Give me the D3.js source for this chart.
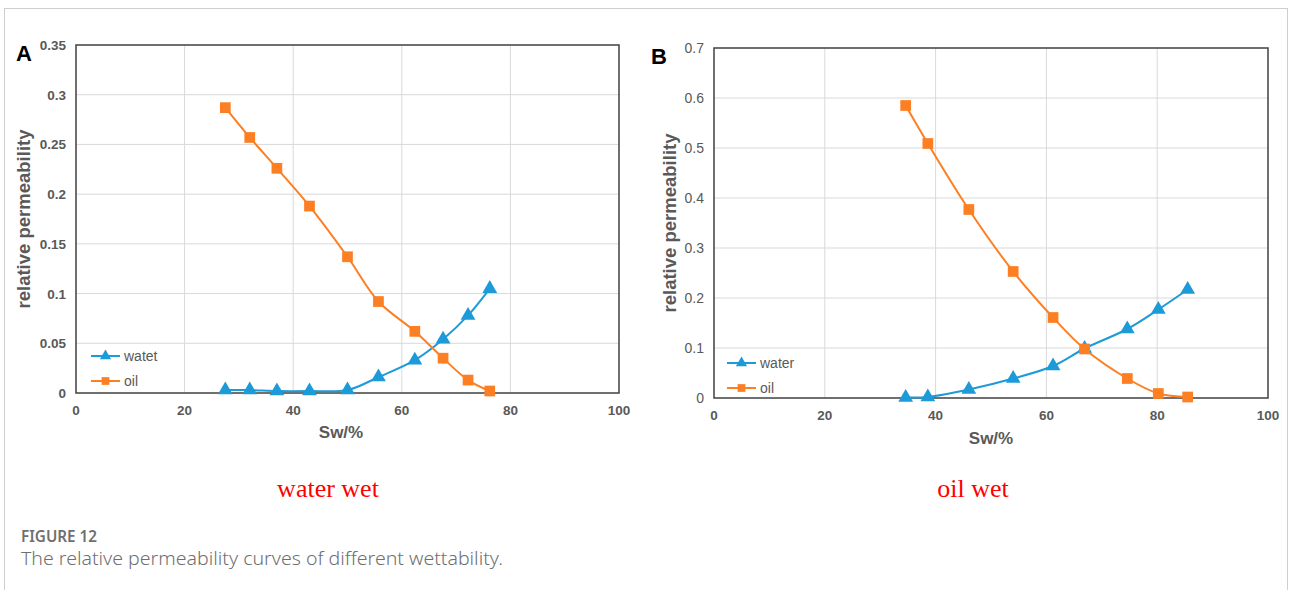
<!DOCTYPE html>
<html>
<head>
<meta charset="utf-8">
<script src="https://cdn.jsdelivr.net/npm/d3@7"></script>
<style>
  body { margin: 0; background: #fff; }
  svg { display: block; }
</style>
</head>
<body>
<div id="fig"></div>
<script>
// panel A: water wet
var swA = [27.5, 32, 37, 43, 50, 55.7, 62.4, 67.6, 72.2, 76.2];
var waterA = [0.003, 0.003, 0.002, 0.002, 0.003, 0.016, 0.033, 0.054, 0.078, 0.105];
var oilA = [0.287, 0.257, 0.226, 0.188, 0.137, 0.092, 0.062, 0.035, 0.013, 0.002];
var yTicksA = [0, 0.05, 0.1, 0.15, 0.2, 0.25, 0.3, 0.35];

// panel B: oil wet
var swB = [34.6, 38.6, 46, 54, 61.2, 66.9, 74.6, 80.2, 85.5];
var waterB = [0.001, 0.002, 0.017, 0.039, 0.064, 0.099, 0.138, 0.177, 0.217];
var oilB = [0.585, 0.509, 0.377, 0.253, 0.161, 0.098, 0.039, 0.009, 0.002];
var yTicksB = [0, 0.1, 0.2, 0.3, 0.4, 0.5, 0.6, 0.7];

var xTicks = [0, 20, 40, 60, 80, 100];

var blue = "#1c9bd8", orange = "#fd7f24", grey = "#595959";

var svg = d3.select("#fig").append("svg")
    .attr("width", 1290)
    .attr("height", 590);

// outer frame
svg.append("rect")
    .attr("x", 4.5).attr("y", 8.5)
    .attr("width", 1283).attr("height", 600)
    .attr("fill", "none")
    .attr("stroke", "#cfcfcf");

function panel(opt) {
  var x = d3.scaleLinear().domain([0, 100]).range([opt.left, opt.right]);
  var y = d3.scaleLinear().domain([0, opt.ymax]).range([opt.bottom, opt.top]);
  var g = svg.append("g");

  // grid
  g.selectAll(".gx").data(xTicks.slice(1, -1)).enter().append("line")
      .attr("x1", d => x(d)).attr("x2", d => x(d))
      .attr("y1", opt.top).attr("y2", opt.bottom)
      .attr("stroke", "#d9d9d9").attr("stroke-width", 1);
  g.selectAll(".gy").data(opt.yTicks.slice(1, -1)).enter().append("line")
      .attr("y1", d => y(d)).attr("y2", d => y(d))
      .attr("x1", opt.left).attr("x2", opt.right)
      .attr("stroke", "#d9d9d9").attr("stroke-width", 1);

  // frame
  g.append("rect")
      .attr("x", opt.left).attr("y", opt.top)
      .attr("width", opt.right - opt.left).attr("height", opt.bottom - opt.top)
      .attr("fill", "none").attr("stroke", "#404040").attr("stroke-width", 1.5);

  // ticks
  g.selectAll(".tx").data(xTicks).enter().append("text")
      .attr("x", d => x(d)).attr("y", opt.bottom + 22)
      .attr("text-anchor", "middle")
      .attr("font-family", "Liberation Sans, Arial, sans-serif")
      .attr("font-size", 13.5).attr("font-weight", "bold")
      .attr("fill", grey)
      .text(d => d);
  g.selectAll(".ty").data(opt.yTicks).enter().append("text")
      .attr("x", opt.left - 10).attr("y", d => y(d) + 5)
      .attr("text-anchor", "end")
      .attr("font-family", "Liberation Sans, Arial, sans-serif")
      .attr("font-size", opt.yBold ? 13.5 : 14)
      .attr("font-weight", opt.yBold ? "bold" : "normal")
      .attr("fill", grey)
      .text(d => d);

  // axis titles
  g.append("text")
      .attr("transform", "translate(" + opt.yTitleX + "," + ((opt.top + opt.bottom) / 2) + ") rotate(-90)")
      .attr("text-anchor", "middle")
      .attr("font-family", "Liberation Sans, Arial, sans-serif")
      .attr("font-size", 18.5).attr("font-weight", "bold")
      .attr("fill", grey)
      .text("relative permeability");
  g.append("text")
      .attr("x", opt.xTitleX).attr("y", opt.xTitleY)
      .attr("text-anchor", "middle")
      .attr("font-family", "Liberation Sans, Arial, sans-serif")
      .attr("font-size", 17).attr("font-weight", "bold")
      .attr("fill", grey)
      .text("Sw/%");

  // panel letter
  g.append("text")
      .attr("x", opt.letterX).attr("y", opt.top + 16)
      .attr("font-family", "Liberation Sans, Arial, sans-serif")
      .attr("font-size", 22).attr("font-weight", "bold")
      .attr("fill", "#000")
      .text(opt.letter);

  var line = d3.line()
      .x(d => x(d[0])).y(d => y(d[1]))
      .curve(d3.curveCatmullRom.alpha(0.5));

  var water = opt.sw.map((s, i) => [s, opt.water[i]]);
  var oil = opt.sw.map((s, i) => [s, opt.oil[i]]);

  g.append("path").datum(water)
      .attr("d", line).attr("fill", "none")
      .attr("stroke", blue).attr("stroke-width", 2);
  g.append("path").datum(oil)
      .attr("d", line).attr("fill", "none")
      .attr("stroke", orange).attr("stroke-width", 2);

  var tri = d3.symbol().type(d3.symbolTriangle).size(95);
  var sq = d3.symbol().type(d3.symbolSquare).size(115);

  g.selectAll(".mw").data(water).enter().append("path")
      .attr("d", tri)
      .attr("transform", d => "translate(" + x(d[0]) + "," + y(d[1]) + ")")
      .attr("fill", blue);
  g.selectAll(".mo").data(oil).enter().append("path")
      .attr("d", sq)
      .attr("transform", d => "translate(" + x(d[0]) + "," + y(d[1]) + ")")
      .attr("fill", orange);

  // legend
  var lg = g.append("g");
  [[opt.names[0], blue], [opt.names[1], orange]].forEach(function (d, i) {
    var ly = opt.legY + i * 25;
    lg.append("line")
        .attr("x1", opt.legX).attr("x2", opt.legX + 29)
        .attr("y1", ly).attr("y2", ly)
        .attr("stroke", d[1]).attr("stroke-width", 2);
    lg.append("path")
        .attr("d", i === 0 ? d3.symbol().type(d3.symbolTriangle).size(55)() : d3.symbol().type(d3.symbolSquare).size(60)())
        .attr("transform", "translate(" + (opt.legX + 14.5) + "," + ly + ")")
        .attr("fill", d[1]);
    lg.append("text")
        .attr("x", opt.legX + 33).attr("y", ly + 5)
        .attr("font-family", "Liberation Sans, Arial, sans-serif")
        .attr("font-size", 14)
        .attr("fill", grey)
        .text(d[0]);
  });

  // wettability label
  svg.append("text")
      .attr("x", opt.wetX).attr("y", 497)
      .attr("text-anchor", "middle")
      .attr("font-family", "Liberation Serif, Times New Roman, serif")
      .attr("font-size", 26)
      .attr("fill", "#ff0000")
      .text(opt.wet);
}

panel({
  left: 76, right: 619, top: 45, bottom: 393, ymax: 0.35,
  yTicks: yTicksA, yBold: true, sw: swA, water: waterA, oil: oilA,
  names: ["watet", "oil"], legX: 91, legY: 356,
  yTitleX: 30, xTitleX: 341, xTitleY: 438,
  letter: "A", letterX: 16, wet: "water wet", wetX: 328
});

panel({
  left: 714, right: 1268, top: 48, bottom: 398, ymax: 0.7,
  yTicks: yTicksB, yBold: false, sw: swB, water: waterB, oil: oilB,
  names: ["water", "oil"], legX: 727, legY: 363,
  yTitleX: 676, xTitleX: 991, xTitleY: 444,
  letter: "B", letterX: 651, wet: "oil wet", wetX: 973
});

// caption
svg.append("text")
    .attr("x", 21).attr("y", 542)
    .attr("font-family", "Noto Sans, Open Sans, sans-serif")
    .attr("font-size", 16.5).attr("font-weight", 600)
    .attr("fill", "#6f6f6f")
    .attr("textLength", 76).attr("lengthAdjust", "spacingAndGlyphs")
    .text("FIGURE 12");
svg.append("text")
    .attr("x", 21).attr("y", 565)
    .attr("font-family", "Noto Sans, Open Sans, sans-serif")
    .attr("font-size", 17.5).attr("font-weight", 300)
    .attr("fill", "#6f6f6f")
    .attr("textLength", 482).attr("lengthAdjust", "spacingAndGlyphs")
    .text("The relative permeability curves of different wettability.");
</script>
</body>
</html>
